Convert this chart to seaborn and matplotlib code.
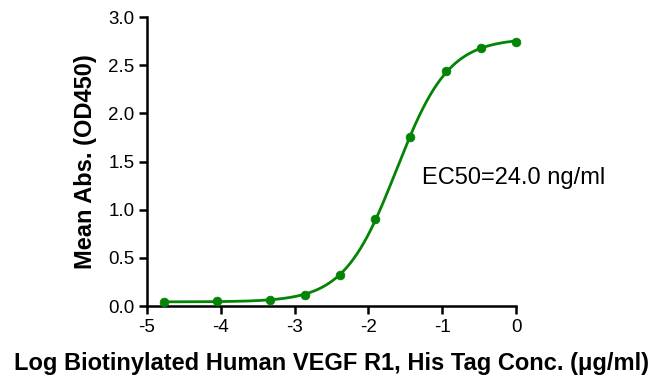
import numpy as np
import pandas as pd
import matplotlib
matplotlib.use("Agg")
import matplotlib.pyplot as plt
import seaborn as sns

log_conc = [-4.77, -4.05, -3.34, -2.86, -2.39, -1.91, -1.43, -0.95, -0.48, 0.0]
mean_abs = [0.045, 0.048, 0.066, 0.115, 0.32, 0.90, 1.75, 2.44, 2.68, 2.74]
x_ticks = [-5, -4, -3, -2, -1, 0]
y_ticks = [0.0, 0.5, 1.0, 1.5, 2.0, 2.5, 3.0]
ec50_label = "EC50=24.0 ng/ml"
x_label = "Log Biotinylated Human VEGF R1, His Tag Conc. (\u03bcg/ml)"
y_label = "Mean Abs. (OD450)"

df = pd.DataFrame({"x": log_conc, "y": mean_abs})

# 4PL fit via Levenberg-Marquardt (numpy only)
def f4(p, x):
    b, t, c, h = p
    return b + (t - b) / (1 + 10 ** ((c - x) * h))

def fit4pl(x, y, p0):
    p = np.array(p0, float)
    lam = 1e-3
    for _ in range(500):
        r = y - f4(p, x)
        J = np.zeros((len(x), 4))
        for i in range(4):
            dp = np.zeros(4); dp[i] = 1e-6
            J[:, i] = (f4(p + dp, x) - f4(p - dp, x)) / 2e-6
        A = J.T @ J
        g = J.T @ r
        step = np.linalg.solve(A + lam * np.diag(np.diag(A)), g)
        pn = p + step
        if np.sum((y - f4(pn, x)) ** 2) < np.sum(r ** 2):
            p = pn; lam *= 0.5
        else:
            lam *= 5
    return p

xa = np.array(log_conc); ya = np.array(mean_abs)
params = fit4pl(xa, ya, [0.05, 2.8, -1.6, 1.2])
xs = np.linspace(xa.min(), xa.max(), 300)
curve = pd.DataFrame({"x": xs, "y": f4(params, xs)})

sns.set_style("ticks")
plt.rcParams["font.family"] = ["Liberation Sans", "DejaVu Sans"]
plt.rcParams["text.color"] = "black"
plt.rcParams["axes.labelcolor"] = "black"
plt.rcParams["xtick.color"] = "black"
plt.rcParams["ytick.color"] = "black"

fig = plt.figure(figsize=(6.53, 3.79), dpi=100)
ax = fig.add_axes([0.2251, 0.1926, 0.5651, 0.7625])
green = "#048404"
sns.lineplot(data=curve, x="x", y="y", ax=ax, color=green, linewidth=2)
sns.scatterplot(data=df, x="x", y="y", ax=ax, color=green, s=40, edgecolor=green, zorder=3)

ax.set_xlim(-5, 0)
ax.set_ylim(0, 3.0)
ax.set_xticks(x_ticks)
ax.set_xticklabels([str(v) for v in x_ticks])
ax.set_yticks(y_ticks)
ax.set_yticklabels([f"{v:.1f}" for v in y_ticks])
for s in ["top", "right"]:
    ax.spines[s].set_visible(False)
for s in ["left", "bottom"]:
    ax.spines[s].set_linewidth(1.8)
    ax.spines[s].set_color("black")
ax.tick_params(axis="both", direction="out", length=6, width=1.8, labelsize=13.5,
               colors="black", labelcolor="black", pad=3)
ax.set_xlabel(x_label, fontsize=17, fontweight="bold", labelpad=12, color="black")
ax.set_ylabel(y_label, fontsize=17, fontweight="bold", labelpad=8, color="black")
ax.text(-1.28, 1.33, ec50_label, fontsize=17, va="center", ha="left", color="black")
for c in ax.collections + ax.lines:
    c.set_clip_on(False)

fig.savefig("out.png", dpi=100)
